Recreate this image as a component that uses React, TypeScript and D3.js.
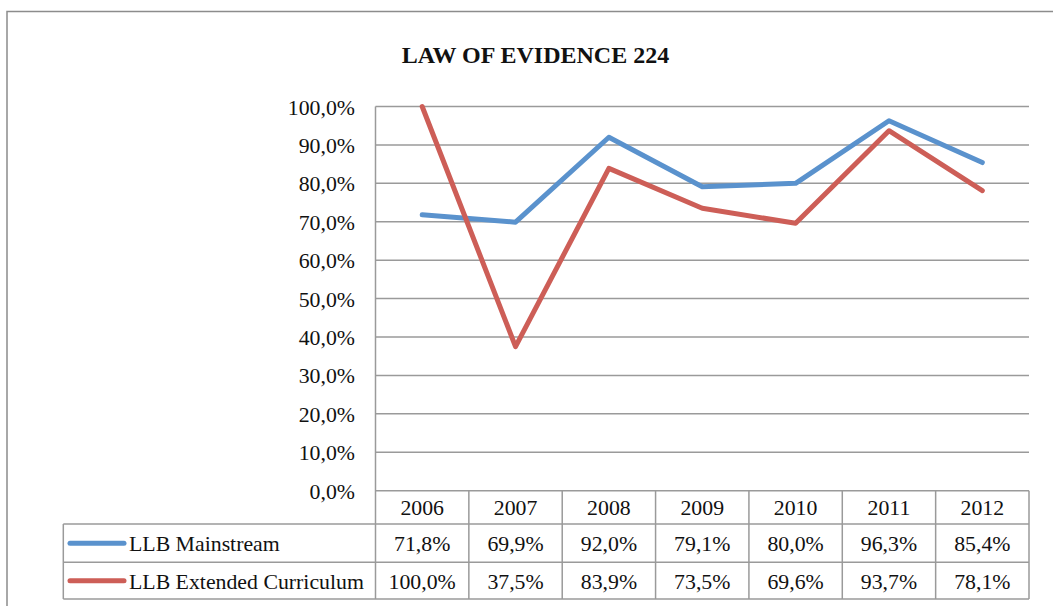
import React from "react";
import * as d3 from "d3";

const title = "LAW OF EVIDENCE 224";
const years = ["2006", "2007", "2008", "2009", "2010", "2011", "2012"];
const mainstream = [71.8, 69.9, 92.0, 79.1, 80.0, 96.3, 85.4];
const extended = [100.0, 37.5, 83.9, 73.5, 69.6, 93.7, 78.1];
const seriesNames = ["LLB Mainstream", "LLB Extended Curriculum"];
const seriesColors = ["#5A92CD", "#CD5E57"];
const yTicks = [0, 10, 20, 30, 40, 50, 60, 70, 80, 90, 100];

const W = 1053;
const H = 606;
const plotLeft = 375.5;
const plotRight = 1029;
const plotTop = 106.5;
const plotBottom = 490.7;
const headerBottom = 524;
const row1Bottom = 562.3;
const row2Bottom = 599;
const legendLeft = 63.3;
const FONT = "'Liberation Serif', 'Times New Roman', serif";
const FS = 21.8;
const GRID = "#9a9a9a";

const fmt = (v: number) => v.toFixed(1).replace(".", ",") + "%";

export default function App() {
  const x = d3.scaleBand<string>().domain(years).range([plotLeft, plotRight]).padding(0);
  const y = d3.scaleLinear().domain([0, 100]).range([plotBottom, plotTop]);
  const cx = (yr: string) => (x(yr) as number) + x.bandwidth() / 2;
  const line = d3
    .line<number>()
    .x((_, i) => cx(years[i]))
    .y((d) => y(d));
  const series = [mainstream, extended];
  const rowTops = [headerBottom, row1Bottom];
  const rowBottoms = [row1Bottom, row2Bottom];

  return (
    <div style={{ position: "absolute", left: 0, top: 0 }}>
      <svg width={W} height={H} style={{ display: "block", background: "#fff" }}>
        <rect x={7} y={11.5} width={1200} height={800} fill="#fff" stroke="#8c8c8c" strokeWidth={1.5} />
        <text x={535.5} y={63} textAnchor="middle" fontFamily={FONT} fontWeight="bold" fontSize={24} fill="#111">
          {title}
        </text>
        {yTicks.map((t) => (
          <g key={t}>
            <line x1={plotLeft} x2={plotRight} y1={y(t)} y2={y(t)} stroke={GRID} strokeWidth={1.5} />
            <text x={355} y={y(t) + 8} textAnchor="end" fontFamily={FONT} fontSize={FS} fill="#111">
              {fmt(t)}
            </text>
          </g>
        ))}
        {/* left axis line */}
        <line x1={plotLeft} x2={plotLeft} y1={plotTop} y2={row2Bottom} stroke={GRID} strokeWidth={1.5} />
        {/* table grid */}
        {years.map((yr) => (
          <line
            key={"v" + yr}
            x1={(x(yr) as number) + x.bandwidth()}
            x2={(x(yr) as number) + x.bandwidth()}
            y1={plotBottom}
            y2={row2Bottom}
            stroke={GRID}
            strokeWidth={1.5}
          />
        ))}
        <line x1={legendLeft} x2={legendLeft} y1={headerBottom} y2={row2Bottom} stroke={GRID} strokeWidth={1.5} />
        {[headerBottom, row1Bottom, row2Bottom].map((yy) => (
          <line key={"h" + yy} x1={legendLeft} x2={plotRight} y1={yy} y2={yy} stroke={GRID} strokeWidth={1.5} />
        ))}
        {years.map((yr) => (
          <text
            key={"hd" + yr}
            x={cx(yr)}
            y={(plotBottom + headerBottom) / 2 + 8}
            textAnchor="middle"
            fontFamily={FONT}
            fontSize={FS}
            fill="#111"
          >
            {yr}
          </text>
        ))}
        {series.map((vals, si) => {
          const mid = (rowTops[si] + rowBottoms[si]) / 2;
          return (
            <g key={"row" + si}>
              <line x1={70} x2={124} y1={mid} y2={mid} stroke={seriesColors[si]} strokeWidth={5} strokeLinecap="round" />
              <text x={129} y={mid + 8} fontFamily={FONT} fontSize={FS} fill="#111">
                {seriesNames[si]}
              </text>
              {vals.map((v, i) => (
                <text
                  key={i}
                  x={cx(years[i])}
                  y={mid + 8}
                  textAnchor="middle"
                  fontFamily={FONT}
                  fontSize={FS}
                  fill="#111"
                >
                  {fmt(v)}
                </text>
              ))}
            </g>
          );
        })}
        {series.map((vals, si) => (
          <path
            key={"line" + si}
            d={line(vals) as string}
            fill="none"
            stroke={seriesColors[si]}
            strokeWidth={5}
            strokeLinecap="round"
            strokeLinejoin="round"
          />
        ))}
      </svg>
    </div>
  );
}
